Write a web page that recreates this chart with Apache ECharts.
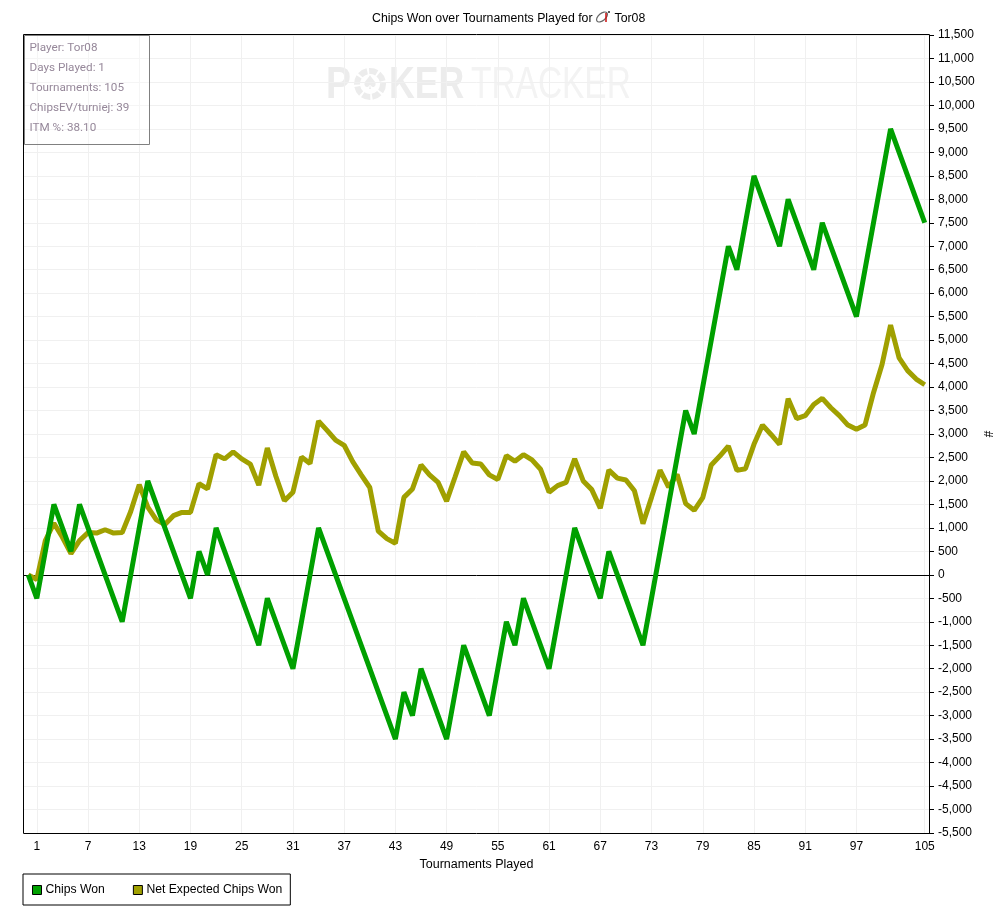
<!DOCTYPE html>
<html>
<head>
    <meta charset="utf-8">
    <title>Chips Won over Tournaments Played</title>
    <style>
        html, body { margin: 0; padding: 0; background: #fff; }
    </style>
</head>
<body>
    <div id="main" style="width: 1008px;height:922px;"></div>
    <script src="https://cdn.jsdelivr.net/npm/echarts@6/dist/echarts.min.js"></script>
    <script type="text/javascript">
    var chipsWon = [
        0, -500, 500, 1500, 1000, 500, 1500, 1000, 500, 0,
        -500, -1000, 0, 1000, 2000, 1500, 1000, 500, 0, -500,
        500, 0, 1000, 500, 0, -500, -1000, -1500, -500, -1000,
        -1500, -2000, -1000, 0, 1000, 500, 0, -500, -1000, -1500,
        -2000, -2500, -3000, -3500, -2500, -3000, -2000, -2500, -3000, -3500,
        -2500, -1500, -2000, -2500, -3000, -2000, -1000, -1500, -500, -1000,
        -1500, -2000, -1000, 0, 1000, 500, 0, -500, 500, 0,
        -500, -1000, -1500, -500, 500, 1500, 2500, 3500, 3000, 4000,
        5000, 6000, 7000, 6500, 7500, 8500, 8000, 7500, 7000, 8000,
        7500, 7000, 6500, 7500, 7000, 6500, 6000, 5500, 6500, 7500,
        8500, 9500, 9000, 8500, 8000, 7500
    ];
    var netExpected = [
        0, -100, 730, 1100, 800, 450, 730, 900, 890, 960,
        890, 900, 1350, 1920, 1440, 1170, 1070, 1260, 1330, 1330,
        1940, 1830, 2560, 2470, 2620, 2470, 2360, 1910, 2700, 2100,
        1580, 1760, 2510, 2370, 3275, 3077, 2870, 2760, 2410, 2130,
        1860, 930, 770, 670, 1650, 1830, 2340, 2130, 1970, 1570,
        2090, 2620, 2380, 2360, 2130, 2030, 2540, 2420, 2560, 2450,
        2250, 1760, 1900, 1970, 2470, 2000, 1815, 1420, 2230, 2060,
        2020, 1790, 1090, 1650, 2230, 1870, 2140, 1517, 1375, 1645,
        2340, 2530, 2744, 2226, 2260, 2780, 3190, 2990, 2780, 3750,
        3330, 3390, 3630, 3760, 3560, 3390, 3190, 3100, 3190, 3880,
        4480, 5320, 4620, 4350, 4170, 4050
    ];
    var shownTicks = [1, 7, 13, 19, 25, 31, 37, 43, 49, 55, 61, 67, 73, 79, 85, 91, 97, 105];
    var infoLines = ['Player: Tor08', 'Days Played: 1', 'Tournaments: 105', 'ChipsEV/turniej: 39', 'ITM %: 38.10'];

    var categories = chipsWon.map(function (v, i) { return i; });
    var uiFont = '"Liberation Sans", Arial, sans-serif';
    function isShown(index) { return shownTicks.indexOf(index) >= 0; }

    var myChart = echarts.init(document.getElementById('main'));

    var graphics = [
        // chart frame, left and top sides
        {type: 'line', silent: true, z: 10, shape: {x1: 23.5, y1: 34.5, x2: 929.5, y2: 34.5}, style: {stroke: '#000', lineWidth: 1}},
        {type: 'line', silent: true, z: 10, shape: {x1: 23.5, y1: 34.5, x2: 23.5, y2: 833.5}, style: {stroke: '#000', lineWidth: 1}},
        // watermark
        {type: 'text', silent: true, z: 0, x: 326, y: 64, scaleX: 0.85, style: {text: 'P', font: 'bold 44px "Liberation Sans"', fill: '#ececec'}},
        {type: 'circle', silent: true, z: 0, shape: {cx: 370, cy: 84, r: 13}, style: {fill: 'none', stroke: '#ececec', lineWidth: 6, lineDash: [8, 2]}},
        {type: 'text', silent: true, z: 0, x: 370, y: 84, style: {text: '\u2660', font: '19px "DejaVu Sans"', fill: '#ececec', align: 'center', verticalAlign: 'middle'}},
        {type: 'text', silent: true, z: 0, x: 389, y: 64, scaleX: 0.81, style: {text: 'KER', font: 'bold 44px "Liberation Sans"', fill: '#ececec'}},
        {type: 'text', silent: true, z: 0, x: 471, y: 64, scaleX: 0.76, style: {text: 'TRACKER', font: '44px "Liberation Sans"', fill: '#f3f3f3'}},
        // stats box
        {type: 'rect', silent: true, z: 20, shape: {x: 24.5, y: 35.5, width: 125, height: 109}, style: {fill: 'rgba(255,255,255,0.35)', stroke: '#808080', lineWidth: 1}},
        // player icon in the title
        {type: 'ellipse', silent: true, z: 20, rotation: 0.7, originX: 602, originY: 17, shape: {cx: 602, cy: 17, rx: 6.5, ry: 3.5}, style: {fill: 'none', stroke: '#666', lineWidth: 1.2}},
        {type: 'line', silent: true, z: 21, shape: {x1: 606, y1: 13, x2: 606, y2: 22}, style: {stroke: '#cc1111', lineWidth: 1.5}},
        {type: 'circle', silent: true, z: 21, shape: {cx: 609, cy: 12, r: 1}, style: {fill: '#222'}}
    ];
    infoLines.forEach(function (line, i) {
        graphics.push({
            type: 'text', silent: true, z: 21, x: 29.5, y: 42 + i * 20,
            style: {text: line, font: '11.7px Roboto', fill: '#96889a'}
        });
    });

    var option = {
        animation: false,
        backgroundColor: '#fff',
        textStyle: {fontFamily: uiFont},
        title: {
            left: 372,
            top: 10,
            padding: 0,
            text: '{a|Chips Won over Tournaments Played for}{b|}{a|Tor08}',
            textStyle: {
                rich: {
                    a: {fontFamily: uiFont, fontSize: 12.3, fontWeight: 'normal', color: '#000'},
                    b: {width: 22}
                }
            }
        },
        grid: {left: 24, right: 79, top: 35, bottom: 89, show: false},
        legend: {
            left: 23,
            top: 874,
            padding: [10, 8, 9, 9],
            borderColor: '#000',
            borderWidth: 1,
            icon: 'rect',
            itemWidth: 9,
            itemHeight: 9,
            itemGap: 28,
            itemStyle: {borderColor: '#000', borderWidth: 1},
            textStyle: {fontFamily: uiFont, fontSize: 12.2, color: '#000', padding: [0, 0, 0, -1]},
            data: ['Chips Won', 'Net Expected Chips Won']
        },
        xAxis: {
            type: 'category',
            data: categories,
            boundaryGap: true,
            name: 'Tournaments Played',
            nameLocation: 'middle',
            nameGap: 22,
            nameTextStyle: {fontFamily: uiFont, fontSize: 12.5, color: '#000'},
            axisLine: {onZero: false, lineStyle: {color: '#000', width: 1}},
            axisTick: {alignWithLabel: true, length: 5, interval: function (i) { return isShown(i); }, lineStyle: {color: '#000'}},
            axisLabel: {interval: function (i) { return isShown(i); }, color: '#000', fontSize: 12, margin: 8, hideOverlap: false, showMinLabel: true, showMaxLabel: true},
            splitLine: {show: true, alignWithLabel: true, interval: function (i) { return isShown(i); }, lineStyle: {color: '#f0f0f0', width: 1}}
        },
        yAxis: {
            type: 'value',
            position: 'right',
            min: -5500,
            max: 11500,
            interval: 500,
            name: '#',
            nameLocation: 'middle',
            nameRotate: -90,
            nameGap: 52,
            nameMoveOverlap: false,
            nameTextStyle: {fontFamily: uiFont, fontSize: 12, color: '#000'},
            axisLine: {show: true, lineStyle: {color: '#000', width: 1}},
            axisTick: {show: true, length: 5, lineStyle: {color: '#000'}},
            axisLabel: {color: '#000', fontSize: 12, margin: 9},
            splitLine: {show: true, lineStyle: {color: '#f0f0f0', width: 1}}
        },
        series: [
            {
                name: 'Net Expected Chips Won',
                type: 'line',
                data: netExpected,
                z: 3,
                symbol: 'none',
                itemStyle: {color: '#a0a000'},
                lineStyle: {color: '#a0a000', width: 5, join: 'bevel'},
                markLine: {
                    silent: true,
                    z: 1,
                    symbol: 'none',
                    label: {show: false},
                    lineStyle: {color: '#000', width: 1, type: 'solid'},
                    data: [{yAxis: 0}]
                }
            },
            {
                name: 'Chips Won',
                type: 'line',
                data: chipsWon,
                z: 4,
                symbol: 'none',
                itemStyle: {color: '#00a000'},
                lineStyle: {color: '#00a000', width: 5, join: 'bevel'}
            }
        ],
        graphic: graphics
    };
    myChart.setOption(option);
    </script>
</body>
</html>
